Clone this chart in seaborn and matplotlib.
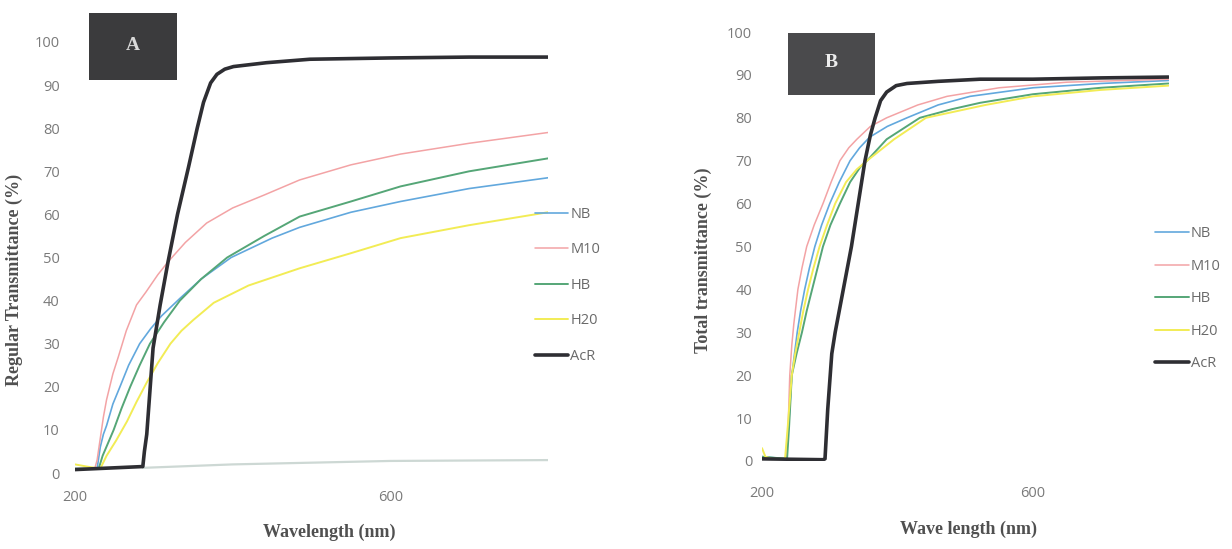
import matplotlib
matplotlib.use("Agg")
import matplotlib.pyplot as plt
import seaborn as sns
from matplotlib.patches import Rectangle

# ---- data ----
samples = ["NB", "M10", "HB", "H20", "AcR"]

# panel A : regular transmittance
a_nb_wl = [200, 228, 232, 236, 240, 248, 257, 268, 282, 296, 310, 333, 360, 398, 450, 485, 550, 613, 700, 800]
a_nb_t = [1, 1, 6, 9, 11, 16, 20, 25, 30, 33.5, 36.5, 40.5, 45, 50, 54.5, 57, 60.5, 63, 66, 68.5]
a_m10_wl = [200, 225, 228, 232, 236, 240, 248, 255, 265, 278, 290, 305, 318, 340, 367, 400, 440, 485, 550, 613, 700, 800]
a_m10_t = [1, 1, 3, 8, 13, 17, 23, 27, 33, 39, 42, 46, 49, 53.5, 58, 61.5, 64.5, 68, 71.5, 74, 76.5, 79]
a_hb_wl = [200, 230, 235, 242, 249, 259, 270, 282, 295, 313, 333, 360, 393, 440, 485, 550, 613, 700, 800]
a_hb_t = [1, 1, 4, 7, 10, 15, 20, 25, 30, 35, 40, 45, 50, 55, 59.5, 63, 66.5, 70, 73]
a_h20_wl = [200, 215, 232, 240, 252, 266, 278, 291, 305, 321, 335, 350, 376, 420, 485, 550, 613, 700, 800]
a_h20_t = [2, 1.5, 1, 4, 7.5, 12, 16.5, 21, 25.5, 30, 33, 35.5, 39.5, 43.5, 47.5, 51, 54.5, 57.5, 60.5]
a_acr_wl = [200, 286, 288, 291, 299, 308, 318, 330, 344, 355, 363, 372, 380, 390, 401, 443, 498, 600, 700, 800]
a_acr_t = [0.8, 1.5, 5, 9, 29, 39, 49, 60, 71, 80, 86, 90.5, 92.5, 93.7, 94.3, 95.2, 96, 96.3, 96.5, 96.5]
a_base_wl = [286, 400, 600, 800]
a_base_t = [1.2, 2, 2.8, 3]

# panel B : total transmittance
b_nb_wl = [200, 236, 240, 244, 248, 252, 257, 263, 270, 278, 288, 300, 314, 330, 344, 359, 385, 414, 460, 507, 600, 700, 800]
b_nb_t = [1, 0.5, 10, 20, 25, 30, 35, 40, 45, 50, 55, 60, 65, 70, 73, 75.5, 78, 80, 83, 85, 87, 88, 88.7]
b_m10_wl = [200, 215, 236, 239, 241, 244, 247, 253, 259, 266, 277, 290, 302, 315, 328, 340, 360, 384, 430, 473, 550, 650, 800]
b_m10_t = [1, 0.5, 0.5, 10, 20, 27, 32, 40, 45, 50, 55, 60, 65, 70, 73, 75, 78, 80, 83, 85, 87, 88.3, 89]
b_hb_wl = [200, 237, 240, 244, 251, 259, 266, 274, 282, 290, 301, 315, 330, 345, 355, 384, 433, 480, 522, 600, 700, 800]
b_hb_t = [1, 0.5, 8, 20, 25, 30, 35, 40, 45, 50, 55, 60, 65, 68.5, 70, 75, 80, 82, 83.5, 85.5, 87, 88]
b_h20_wl = [200, 205, 215, 234, 238, 244, 249, 255, 261, 268, 276, 285, 296, 308, 324, 340, 355, 395, 442, 530, 600, 700, 800]
b_h20_t = [3, 1, 0.5, 0.5, 8, 20, 25, 30, 35, 40, 45, 50, 55, 60, 65, 68, 70, 75, 80, 83, 85, 86.5, 87.5]
b_acr_wl = [200, 290, 293, 297, 303, 308, 320, 332, 342, 352, 360, 367, 375, 384, 398, 414, 460, 522, 600, 700, 800]
b_acr_t = [0.5, 0.3, 0.5, 12, 25, 30, 40, 50, 60, 70, 76, 80, 84, 86, 87.5, 88, 88.5, 89, 89, 89.3, 89.5]

colors = {"NB": "#62a8dd", "M10": "#f3a3a5", "HB": "#55a677", "H20": "#f2ec55", "AcR": "#2e2e33"}
widths = {"NB": 1.2, "M10": 1.1, "HB": 1.4, "H20": 1.4, "AcR": 2.6}

sns.set_style("white")
plt.rcParams["font.family"] = ["Open Sans", "DejaVu Sans"]

fig = plt.figure(figsize=(12.32, 5.49), dpi=100)
ax_a = fig.add_axes([0.0609, 0.1384, 0.3839, 0.7851])
ax_b = fig.add_axes([0.6185, 0.1603, 0.3300, 0.7814])

panel_a = {
    "NB": (a_nb_wl, a_nb_t), "M10": (a_m10_wl, a_m10_t), "HB": (a_hb_wl, a_hb_t),
    "H20": (a_h20_wl, a_h20_t), "AcR": (a_acr_wl, a_acr_t),
}
panel_b = {
    "NB": (b_nb_wl, b_nb_t), "M10": (b_m10_wl, b_m10_t), "HB": (b_hb_wl, b_hb_t),
    "H20": (b_h20_wl, b_h20_t), "AcR": (b_acr_wl, b_acr_t),
}

sns.lineplot(x=a_base_wl, y=a_base_t, ax=ax_a, color="#cdd8d4", lw=1.6)
for name in samples:
    wl, t = panel_a[name]
    sns.lineplot(x=wl, y=t, ax=ax_a, color=colors[name], lw=widths[name], label=name)
for name in samples:
    wl, t = panel_b[name]
    sns.lineplot(x=wl, y=t, ax=ax_b, color=colors[name], lw=widths[name], label=name)

for ax, ypad, xpad in [(ax_a, 11, 12), (ax_b, 7, 18)]:
    ax.set_xlim(200, 800)
    ax.set_ylim(0, 100)
    ax.set_xticks([200, 600])
    ax.set_yticks(range(0, 101, 10))
    ax.tick_params(axis="y", length=0, pad=ypad, labelsize=10.5, labelcolor="#7a7a7a")
    ax.tick_params(axis="x", length=0, pad=xpad, labelsize=10.5, labelcolor="#7a7a7a")
    ax.set_xlabel("")
    ax.set_ylabel("")
    ax.set_facecolor("none")
    sns.despine(ax=ax, left=True, bottom=True)

leg_a = ax_a.legend(loc="upper left", bbox_to_anchor=(0.434, 0.623), bbox_transform=fig.transFigure,
                    frameon=False, fontsize=10.5, handlelength=2.3, handletextpad=0.15,
                    labelspacing=1.4, borderpad=0, borderaxespad=0)
leg_b = ax_b.legend(loc="upper left", bbox_to_anchor=(0.9375, 0.588), bbox_transform=fig.transFigure,
                    frameon=False, fontsize=10.5, handlelength=2.3, handletextpad=0.15,
                    labelspacing=1.2, borderpad=0, borderaxespad=0)
for leg in (leg_a, leg_b):
    for txt in leg.get_texts():
        txt.set_color("#6a6a6a")

serif = dict(family="Liberation Serif", fontweight="bold", fontsize=13, color="#505050")
fig.text(0.012, 0.49, "Regular Transmittance (%)", rotation=90, ha="center", va="center", **serif)
fig.text(0.267, 0.031, "Wavelength (nm)", ha="center", va="center", **serif)
fig.text(0.5706, 0.526, "Total transmittance (%)", rotation=90, ha="center", va="center", **serif)
fig.text(0.786, 0.035, "Wave length (nm)", ha="center", va="center", **serif)

# panel tags
fig.patches.append(Rectangle((0.0722, 0.854), 0.0714, 0.122, transform=fig.transFigure,
                             facecolor="#3b3b3d", edgecolor="none"))
fig.text(0.108, 0.918, "A", ha="center", va="center", family="Liberation Serif",
         fontweight="bold", fontsize=14, color="#d8d8d8")
fig.patches.append(Rectangle((0.6396, 0.827), 0.0706, 0.113, transform=fig.transFigure,
                             facecolor="#4a4a4c", edgecolor="none"))
fig.text(0.6745, 0.887, "B", ha="center", va="center", family="Liberation Serif",
         fontweight="bold", fontsize=14, color="#ededed")

fig.savefig("out.png", dpi=100, facecolor="white")
